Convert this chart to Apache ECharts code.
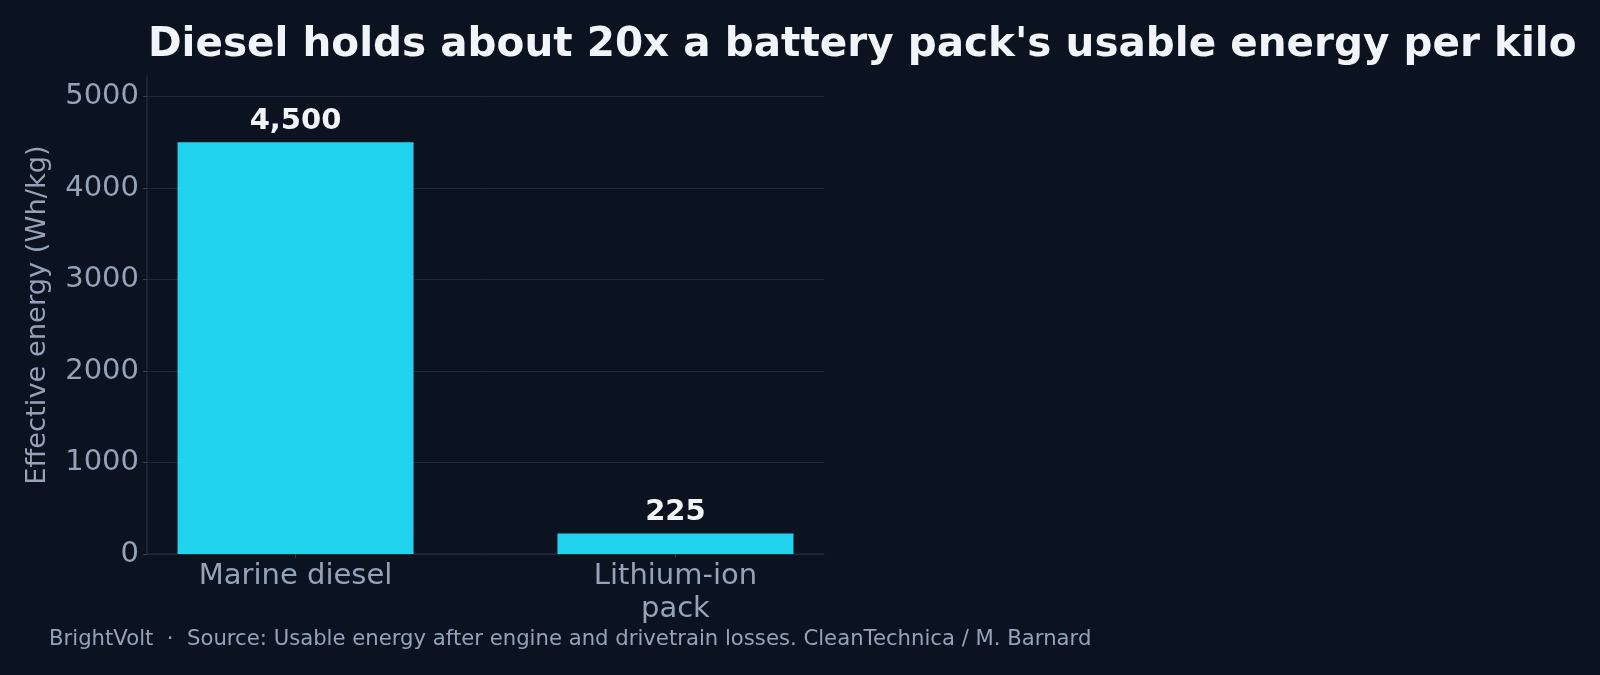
<!DOCTYPE html>
<html lang="en">
<head>
    <meta charset="UTF-8">
    <title>Diesel vs battery energy</title>
    <script src="https://cdn.jsdelivr.net/npm/echarts@6/dist/echarts.min.js"></script>
    <style>
        html, body { margin: 0; padding: 0; background: #0b1220; }
        #main { width: 1600px; height: 675px; }
    </style>
</head>
<body>
<div id="main"></div>
<script type="text/javascript">
    // data
    var categories = ['Marine diesel', 'Lithium-ion\npack'];
    var energyValues = [4500, 225];
    var yTicks = [0, 1000, 2000, 3000, 4000, 5000];

    var font = 'DejaVu Sans';
    var chart = echarts.init(document.getElementById('main'));

    // bars sit at index positions 0 and 1, with a little padding either side
    var barData = energyValues.map(function (v, i) { return [i, v]; });
    var catIndex = categories.map(function (c, i) { return i; });

    var option = {
        backgroundColor: '#0b1220',
        title: [
            {
                text: "Diesel holds about 20x a battery pack's usable energy per kilo",
                left: 148,
                top: 25,
                padding: 0,
                textStyle: { color: '#f1f5f9', fontFamily: font, fontSize: 40.5, fontWeight: 'bold' }
            },
            {
                text: 'BrightVolt  \u00b7  Source: Usable energy after engine and drivetrain losses. CleanTechnica / M. Barnard',
                left: 49,
                top: 629,
                padding: 0,
                textStyle: { color: '#94a3b8', fontFamily: font, fontSize: 21.2, fontWeight: 'normal' }
            }
        ],
        grid: { left: 147, right: 776, top: 76, bottom: 121, containLabel: false },
        xAxis: {
            type: 'value',
            min: -0.391,
            max: 1.391,
            axisLine: { show: true, onZero: false, lineStyle: { color: '#1e293b', width: 1.5 } },
            axisTick: { show: true, length: 4, customValues: catIndex, lineStyle: { color: '#334155' } },
            axisLabel: {
                color: '#94a3b8', fontFamily: font, fontSize: 29, lineHeight: 33, margin: 6,
                customValues: catIndex,
                formatter: function (v) { return categories[Math.round(v)]; }
            },
            splitLine: { show: false }
        },
        yAxis: {
            type: 'value',
            min: 0,
            max: 5225,
            name: 'Effective energy (Wh/kg)',
            nameLocation: 'middle',
            nameGap: 96,
            nameTextStyle: { color: '#94a3b8', fontFamily: font, fontSize: 27.3 },
            axisLine: { show: true, onZero: false, lineStyle: { color: '#1e293b', width: 1.5 } },
            axisTick: { show: true, length: 4, customValues: yTicks, lineStyle: { color: '#334155' } },
            axisLabel: {
                color: '#94a3b8', fontFamily: font, fontSize: 29, margin: 8,
                customValues: yTicks,
                formatter: function (v) { return String(v); }
            },
            splitLine: { show: true, lineStyle: { color: '#1e293b', width: 1 } }
        },
        series: [
            {
                type: 'bar',
                data: barData,
                barWidth: 236,
                itemStyle: { color: '#22d3ee' },
                label: {
                    show: true,
                    position: 'top',
                    distance: 6,
                    color: '#f1f5f9',
                    fontFamily: font,
                    fontSize: 29,
                    fontWeight: 'bold',
                    formatter: function (p) { return p.value[1].toLocaleString('en-US'); }
                }
            }
        ]
    };

    chart.setOption(option);
</script>
</body>
</html>
